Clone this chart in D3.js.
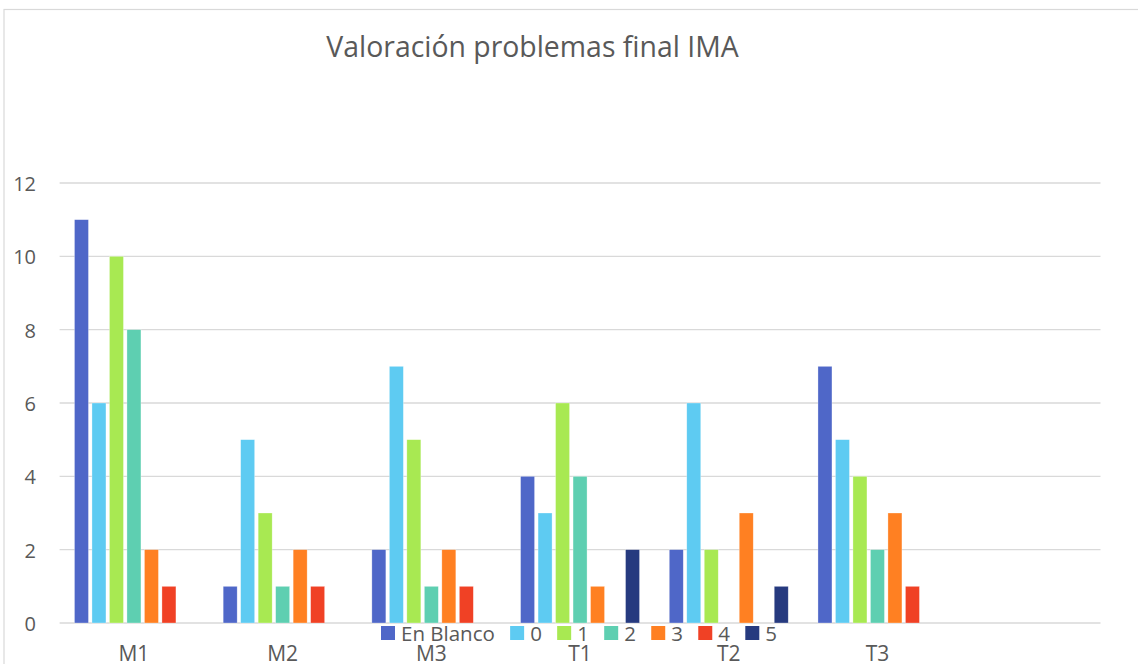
<!DOCTYPE html>
<html>
<head>
<meta charset="utf-8">
<script src="https://cdn.jsdelivr.net/npm/d3@7"></script>
<style>
  html, body { margin: 0; padding: 0; background: #fff; }
  svg { display: block; font-family: "Open Sans", sans-serif; }
</style>
</head>
<body>
<svg id="chart" width="1138" height="664"></svg>
<script>
document.addEventListener("DOMContentLoaded", () => {
  "use strict";

  // categories on the x axis (last slot is an empty category, as in the sheet)
  const categories = ["M1", "M2", "M3", "T1", "T2", "T3", ""];
  const seriesNames = ["En Blanco", "0", "1", "2", "3", "4", "5"];
  const seriesColors = ["#4f67c8", "#5ecbf2", "#a8e952", "#5ecfb1", "#ff8022", "#f04125", "#263a7f"];

  // one array per series, values for M1..T3
  const enBlanco = [11, 1, 2, 4, 2, 7];
  const val0     = [6, 5, 7, 3, 6, 5];
  const val1     = [10, 3, 5, 6, 2, 4];
  const val2     = [8, 1, 1, 4, 0, 2];
  const val3     = [2, 2, 2, 1, 3, 3];
  const val4     = [1, 1, 1, 0, 0, 1];
  const val5     = [0, 0, 0, 2, 1, 0];
  const yTicks   = [0, 2, 4, 6, 8, 10, 12];

  const seriesValues = [enBlanco, val0, val1, val2, val3, val4, val5];

  const svg = d3.select("#chart");
  const textColor = "#595959";
  const gridColor = "#d9d9d9";

  // chart border (runs off the right/bottom edge)
  svg.append("rect")
    .attr("x", 4).attr("y", 9.5)
    .attr("width", 1200).attr("height", 700)
    .attr("fill", "none")
    .attr("stroke", gridColor)
    .attr("stroke-width", 1.2);

  const M = { left: 59.6, right: 1100.5, top: 183, bottom: 623 };

  const x0 = d3.scaleBand().domain(categories).range([M.left, M.right]).padding(0);
  const x1 = d3.scaleBand().domain(seriesNames).range([0, x0.bandwidth()])
    .paddingInner(0.2).paddingOuter(0.85);
  const y = d3.scaleLinear().domain([0, 12]).range([M.bottom, M.top]);

  // gridlines
  svg.append("g").selectAll("line").data(yTicks).join("line")
    .attr("x1", M.left).attr("x2", M.right)
    .attr("y1", d => y(d)).attr("y2", d => y(d))
    .attr("stroke", gridColor)
    .attr("stroke-width", 1.3);

  // y tick labels
  svg.append("g").selectAll("text").data(yTicks).join("text")
    .attr("x", 36)
    .attr("y", d => y(d) + 1)
    .attr("dy", "0.35em")
    .attr("text-anchor", "end")
    .attr("fill", textColor)
    .style("font-size", "20px")
    .text(d => d);

  // bars
  const rows = [];
  categories.forEach((c, ci) => {
    seriesNames.forEach((s, si) => {
      const v = seriesValues[si][ci];
      if (v !== undefined && v > 0) rows.push({ cat: c, series: s, value: v, color: seriesColors[si] });
    });
  });

  svg.append("g").selectAll("rect").data(rows).join("rect")
    .attr("x", d => x0(d.cat) + x1(d.series))
    .attr("y", d => y(d.value))
    .attr("width", x1.bandwidth())
    .attr("height", d => y(0) - y(d.value))
    .attr("fill", d => d.color)
    .attr("stroke", "#fff")
    .attr("stroke-opacity", 0.5)
    .attr("stroke-width", 0.6);

  // category labels (cut at the bottom edge, as in the original)
  svg.append("g").selectAll("text").data(categories.filter(c => c)).join("text")
    .attr("x", d => x0(d) + x0.bandwidth() / 2)
    .attr("y", 661)
    .attr("text-anchor", "middle")
    .attr("fill", textColor)
    .style("font-size", "21px")
    .text(d => d);

  // legend
  const legend = svg.append("g").attr("transform", "translate(381,626)");
  let lx = 0;
  seriesNames.forEach((s, i) => {
    const item = legend.append("g").attr("transform", `translate(${lx},0)`);
    item.append("rect")
      .attr("width", 14).attr("height", 14)
      .attr("fill", seriesColors[i]);
    const t = item.append("text")
      .attr("x", 20)
      .attr("y", 14.5)
      .attr("fill", textColor)
      .style("font-size", "20.5px")
      .text(s);
    lx += 20 + t.node().getComputedTextLength() + 15.3;
  });

  // title
  svg.append("text")
    .attr("x", 532.5)
    .attr("y", 57)
    .attr("text-anchor", "middle")
    .attr("fill", textColor)
    .style("font-size", "28.4px")
    .text("Valoración problemas final IMA");
});
</script>
</body>
</html>
